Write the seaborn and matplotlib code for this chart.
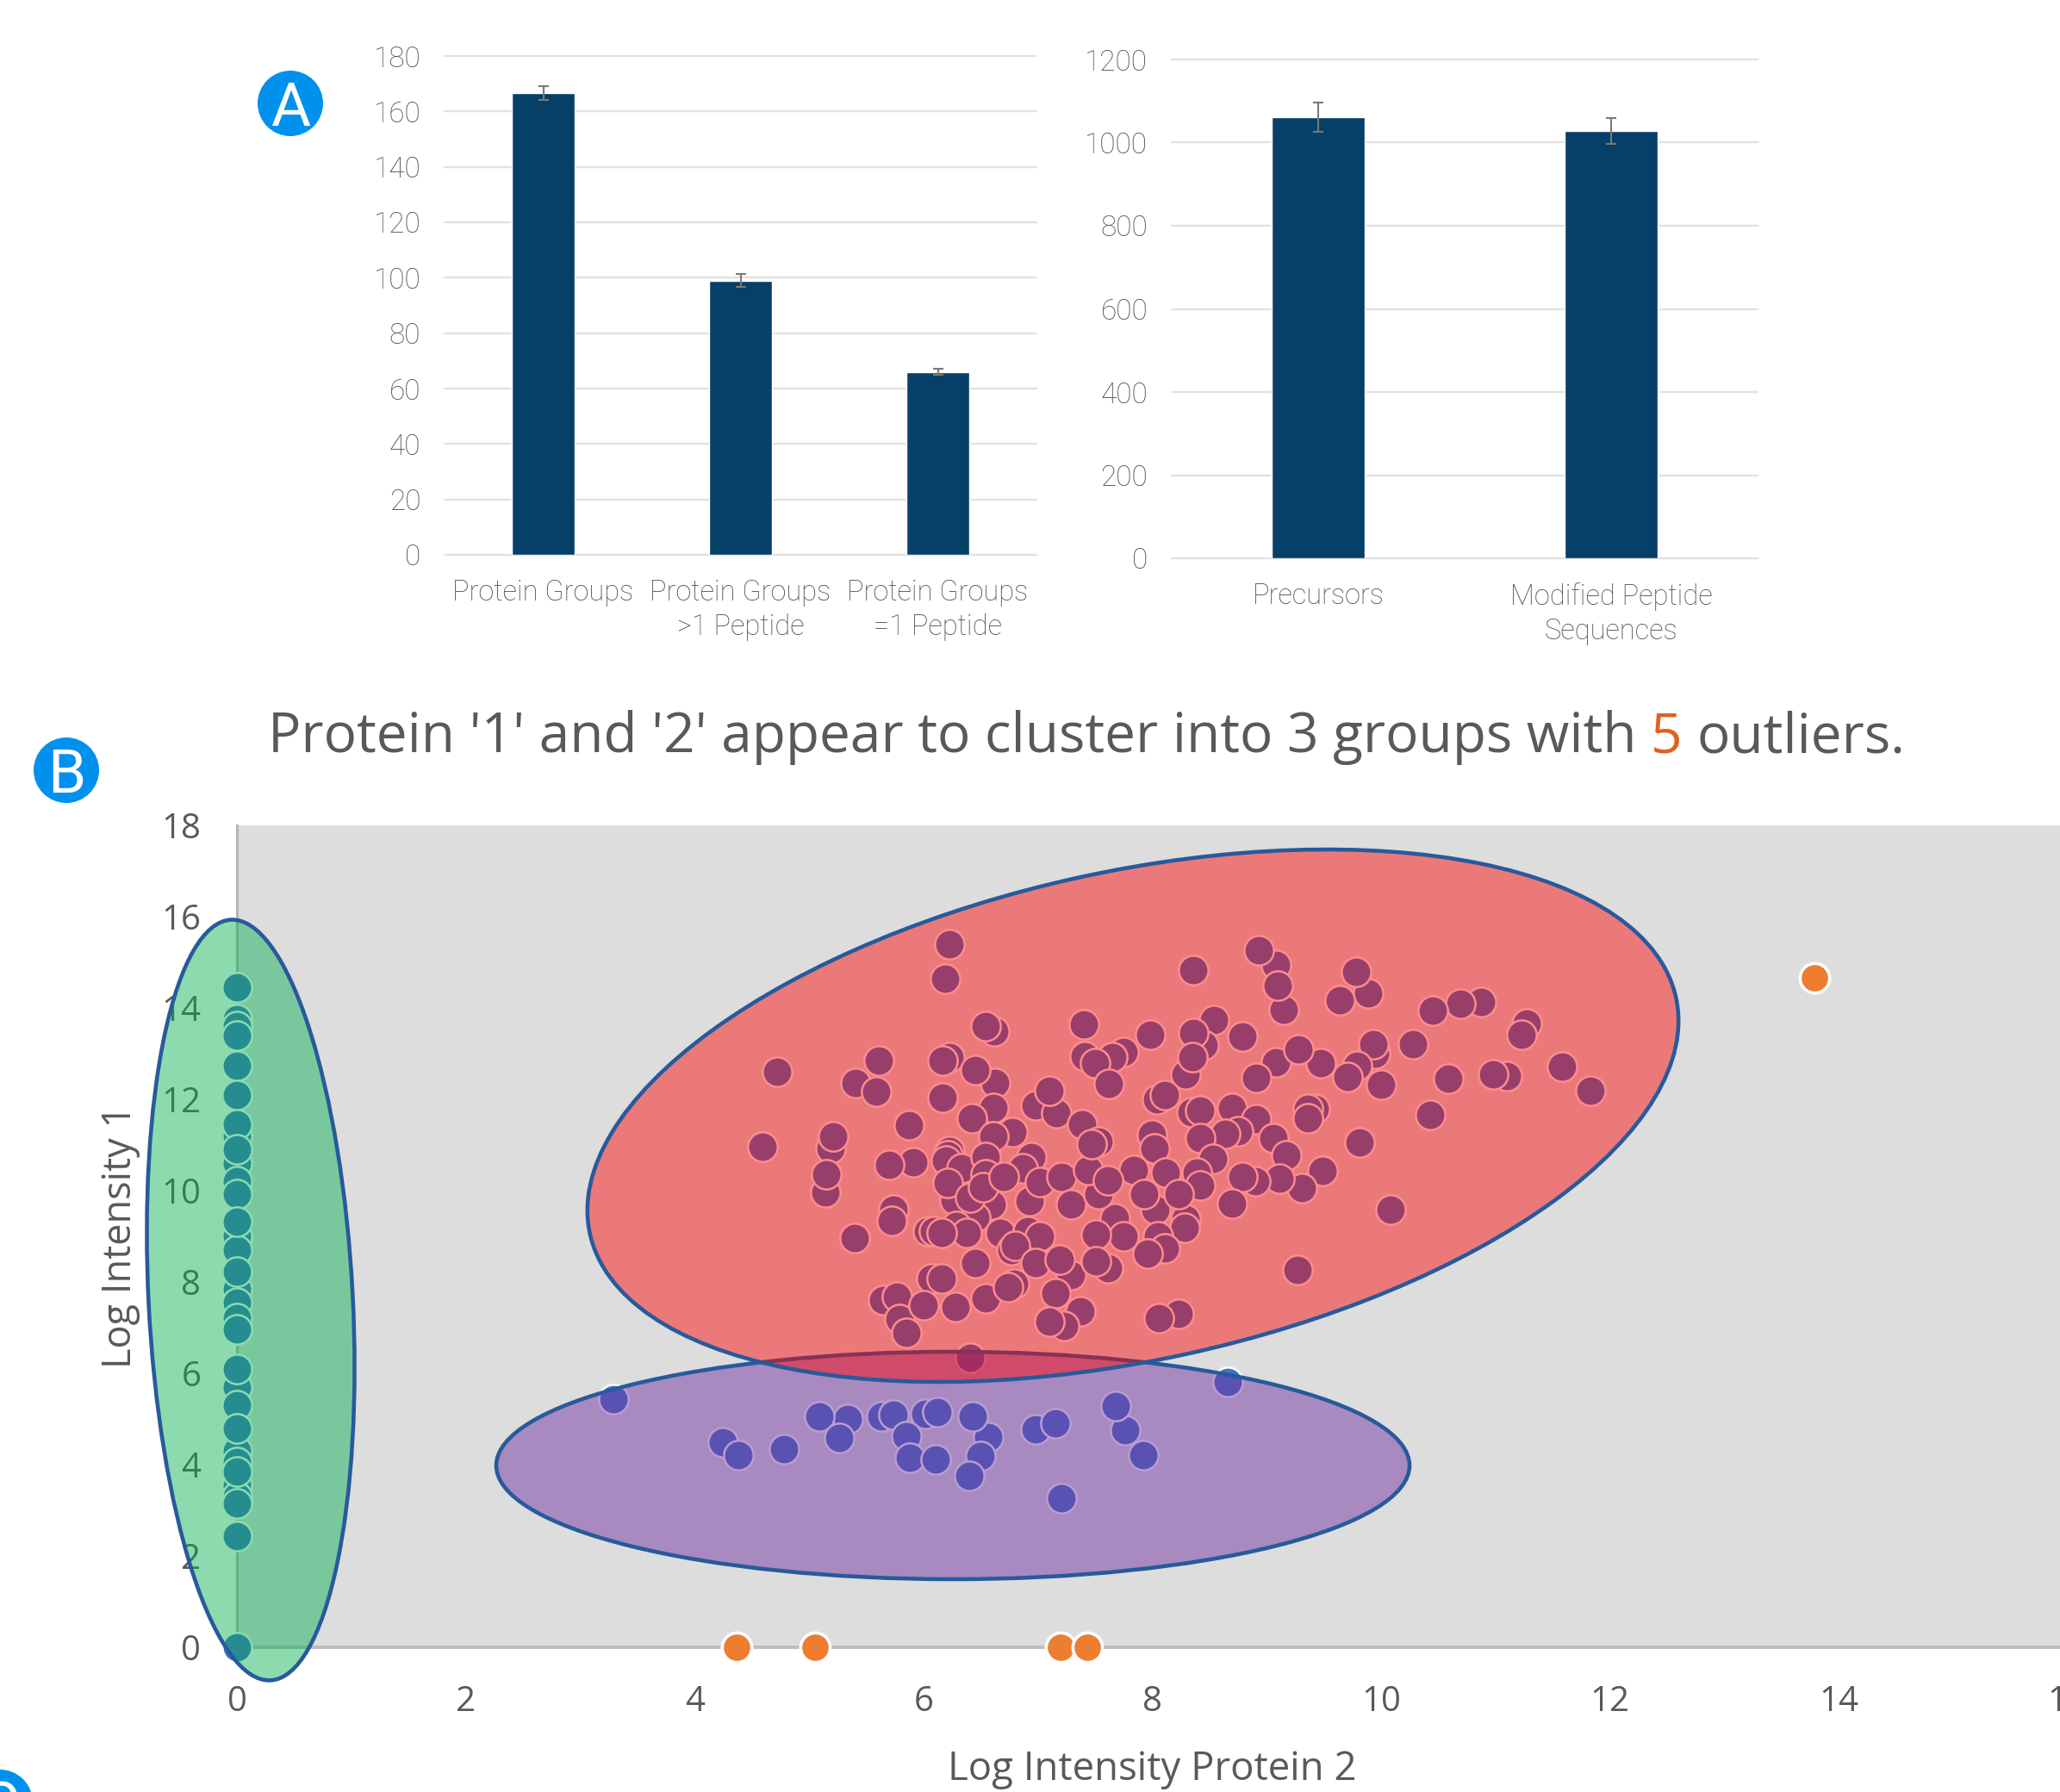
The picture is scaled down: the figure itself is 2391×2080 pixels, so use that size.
import matplotlib
matplotlib.use("Agg")
import matplotlib.pyplot as plt
import seaborn as sns
from matplotlib.patches import Circle, Ellipse
from matplotlib.transforms import IdentityTransform

W, H = 2391, 2080

groups_labels = ["Protein Groups", "Protein Groups\n>1 Peptide", "Protein Groups\n=1 Peptide"]
groups_values = [166.5, 99, 66]
groups_errors = [2.5, 2.3, 1.0]
groups_ticks = [0, 20, 40, 60, 80, 100, 120, 140, 160, 180]

peptide_labels = ["Precursors", "Modified Peptide\nSequences"]
peptide_values = [1061, 1028]
peptide_errors = [36, 31]
peptide_ticks = [0, 200, 400, 600, 800, 1000, 1200]

red_x = [6.23, 6.19, 6.62, 6.54, 5.61, 5.41, 5.59, 4.72, 6.23, 6.17, 6.63, 6.45, 6.17, 6.61, 6.42, 6.78, 6.61,
         6.98, 7.16, 7.10, 5.87, 4.59, 5.19, 5.21, 5.14, 5.15, 5.91, 5.70, 6.23, 6.21, 6.20, 6.33, 6.27, 6.21,
         6.54, 6.94, 6.87, 6.54, 6.60, 6.45, 6.41, 6.52, 6.70, 6.93, 7.02, 7.21, 7.29, 5.74, 5.72, 5.40, 6.04,
         6.09, 6.29, 6.38, 6.16, 6.67, 6.91, 7.02, 6.77, 6.80, 6.45, 6.98, 7.29, 7.19, 7.15, 7.37, 7.23, 7.10,
         6.07, 6.16, 5.65, 5.77, 5.79, 5.85, 6.00, 6.28, 6.54, 6.79, 6.74, 6.41,
         8.36, 9.08, 8.93, 9.15, 9.10, 9.89, 9.78, 9.64, 10.87, 10.69, 10.45, 11.27, 11.23, 11.58, 11.83, 11.10,
         10.98, 10.59, 10.43, 10.28, 9.95, 9.93, 9.79, 9.71, 10.00, 9.47, 9.08, 9.28, 8.91, 8.79, 8.54, 8.45,
         8.36, 8.29, 8.35, 7.98, 7.75, 7.65, 7.40, 7.41, 7.50, 7.62, 8.04, 8.11, 8.34, 8.42, 8.70, 8.91, 8.75,
         8.64, 8.42, 8.53, 9.06, 9.17, 9.42, 9.36, 9.36, 9.81, 9.49, 9.31, 9.11, 8.90, 8.79, 8.70, 10.08, 9.27,
         8.23, 8.06, 8.00, 8.02, 7.84, 8.12, 8.39, 8.42, 8.29, 8.03, 8.28, 8.05, 8.11, 7.96, 7.93, 8.23, 7.67,
         7.75, 7.51, 7.53, 7.44, 7.61, 7.39, 7.53, 7.47, 7.61, 7.51]
red_y = [15.40, 14.64, 13.49, 13.60, 12.84, 12.36, 12.17, 12.60, 12.92, 12.85, 12.36, 12.65, 12.04, 11.82, 11.58,
         11.28, 11.19, 11.86, 11.69, 12.19, 11.44, 10.96, 10.92, 11.19, 9.96, 10.35, 10.63, 10.57, 10.86, 10.78,
         10.66, 10.50, 9.80, 10.17, 10.74, 10.74, 10.50, 10.35, 9.69, 9.42, 9.85, 10.07, 10.31, 9.78, 10.19, 10.31,
         9.69, 9.58, 9.34, 8.97, 9.11, 9.11, 9.22, 9.07, 9.07, 9.08, 9.11, 9.00, 8.69, 8.80, 8.42, 8.42, 8.15, 8.50,
         7.76, 7.35, 7.03, 7.13, 8.07, 8.07, 7.60, 7.67, 7.19, 6.88, 7.50, 7.46, 7.65, 7.97, 7.89, 6.34,
         14.83, 14.94, 15.26, 13.96, 14.50, 14.33, 14.79, 14.17, 14.13, 14.09, 13.95, 13.66, 13.42, 12.71, 12.19,
         12.51, 12.55, 12.46, 11.66, 13.21, 13.00, 13.21, 12.73, 12.50, 12.33, 12.79, 12.81, 13.10, 12.47, 13.37,
         13.73, 13.19, 13.46, 12.55, 12.92, 13.41, 13.03, 12.93, 13.65, 12.94, 12.80, 12.34, 12.00, 12.10, 11.72,
         11.75, 11.82, 11.57, 11.30, 11.25, 11.15, 10.69, 11.15, 10.78, 11.80, 11.80, 11.58, 11.05, 10.44, 10.05,
         10.27, 10.21, 10.31, 9.72, 9.58, 8.27, 7.31, 7.21, 11.23, 10.92, 10.45, 10.40, 10.40, 10.11, 9.38, 9.58,
         9.19, 9.00, 8.73, 8.62, 9.92, 9.92, 9.40, 9.00, 9.03, 9.92, 10.46, 10.23, 11.46, 11.07, 11.01, 8.30, 8.45]

purple_x = [3.29, 8.66, 5.34, 5.09, 5.26, 4.25, 4.38, 4.78, 5.63, 5.74, 6.02, 6.12, 6.57, 6.43, 5.85, 5.88, 6.11,
            6.50, 6.40, 6.98, 7.15, 7.76, 7.68, 7.92, 7.21]
purple_y = [5.43, 5.81, 5.00, 5.05, 4.58, 4.50, 4.20, 4.34, 5.05, 5.10, 5.11, 5.15, 4.61, 5.05, 4.62, 4.15, 4.11,
            4.19, 3.76, 4.77, 4.91, 4.76, 5.28, 4.20, 3.26]

green_y = [13.76, 13.61, 11.2, 10.6, 10.2, 9.0, 8.7, 7.85, 7.55, 7.2, 5.70, 5.30, 4.3, 4.05, 3.55, 3.3, 3.16,
           0, 14.45, 13.40, 12.74, 12.09, 11.45, 10.9, 9.92, 9.32, 8.22, 6.97, 6.1, 4.80, 3.85, 2.44]
green_x = [0] * len(green_y)

outlier_x = [4.37, 5.05, 7.20, 7.43, 13.79]
outlier_y = [0, 0, 0, 0, 14.66]

scatter_xticks = [0, 2, 4, 6, 8, 10, 12, 14, 16]
scatter_yticks = [0, 2, 4, 6, 8, 10, 12, 14, 16, 18]

BAR = "#064068"
BAR_TEXT = "#505050"
GRID = "#E2E2E2"
TEXT = "#595959"
EDGE = "#285A9B"
BADGE = "#0091EE"

sns.set_theme(style="white")
plt.rcParams["font.family"] = ["Roboto", "DejaVu Sans"]


def px_axes(fig, left, top, right, bottom):
    return fig.add_axes([left / W, 1 - bottom / H, (right - left) / W, (bottom - top) / H])


def bar_panel(ax, labels, values, errors, ticks):
    sns.barplot(x=labels, y=values, color=BAR, saturation=1, width=0.32, errorbar=None, ax=ax, zorder=2)
    ax.errorbar(range(len(labels)), values, yerr=errors, fmt="none", ecolor="#7A7A72", elinewidth=1.5,
                capsize=4.3, capthick=1.5, zorder=3)
    ax.set_xlim(-0.5, len(labels) - 0.5)
    ax.set_ylim(ticks[0], ticks[-1])
    ax.set_yticks(ticks)
    ax.grid(axis="y", color=GRID, linewidth=1.7)
    ax.set_axisbelow(True)
    for line in ax.yaxis.get_gridlines():
        line.set_clip_on(False)
    sns.despine(ax=ax, left=True, bottom=True)
    ax.tick_params(axis="y", length=0, pad=20, labelsize=24, labelcolor=BAR_TEXT)
    ax.tick_params(axis="x", length=0, pad=20.5, labelsize=23.5, labelcolor=BAR_TEXT)
    for lab in ax.get_xticklabels() + ax.get_yticklabels():
        lab.set_fontweight("light")
    for lab in ax.get_xticklabels():
        lab.set_linespacing(1.3)


def badge(fig, cx, cy, letter):
    fig.add_artist(Circle((cx, H - cy), 38, facecolor=BADGE, edgecolor="none", transform=IdentityTransform()))
    fig.text(cx / W, 1 - cy / H, letter, color="white", fontsize=51, ha="center", va="center_baseline")


fig = plt.figure(figsize=(W / 100, H / 100), dpi=100)

ax_groups = px_axes(fig, 516, 65, 1203, 644)
bar_panel(ax_groups, groups_labels, groups_values, groups_errors, groups_ticks)
ax_peptides = px_axes(fig, 1360, 69, 2040, 648)
bar_panel(ax_peptides, peptide_labels, peptide_values, peptide_errors, peptide_ticks)

# the scatter axes run a little past the right edge so that the 16 tick gets cut off
ax = px_axes(fig, 275, 958, 275 + 16 * 132.8, 1912)
ax.set_facecolor("#DDDDDD")
marker = dict(s=610, edgecolor="white", linewidth=1.8, clip_on=False, legend=False, ax=ax, zorder=3)
sns.scatterplot(x=green_x, y=green_y, color="#4472C4", **marker)
sns.scatterplot(x=red_x, y=red_y, color="#4472C4", **marker)
sns.scatterplot(x=purple_x, y=purple_y, color="#4472C4", **marker)
sns.scatterplot(x=outlier_x, y=outlier_y, color="#ED7D31", **{**marker, "zorder": 8, "linewidth": 2.6})
ax.set_xlim(0, 16)
ax.set_ylim(0, 18)
ax.set_xticks(scatter_xticks)
ax.set_yticks(scatter_yticks)
for side in ["top", "right"]:
    ax.spines[side].set_visible(False)
ax.spines["left"].set_color("#B5B5B5")
ax.spines["left"].set_linewidth(2.2)
ax.spines["bottom"].set_color("#BDBDBD")
ax.spines["bottom"].set_linewidth(2.8)
ax.tick_params(axis="x", length=0, labelsize=29, labelcolor=TEXT, pad=31)
ax.tick_params(axis="y", length=0, labelsize=29, labelcolor=TEXT, pad=30)
for lab in ax.get_xticklabels() + ax.get_yticklabels():
    lab.set_fontfamily("Open Sans")

ovals = [
    ((1106, 1701), 1060, 264, 0, (0.44, 0.19, 0.63, 0.48), 5),
    ((291, 1509), 884, 237, 92.98, (0.0, 0.69, 0.31, 0.45), 5),
    ((1315, 1295), 1290, 567, 12.25, (1.0, 0.0, 0.0, 0.45), 6),
]
for (cx, cy), w, h, angle, fill, z in ovals:
    ax.add_patch(Ellipse((cx, H - cy), w, h, angle=angle, facecolor=fill, edgecolor=EDGE, linewidth=3.3,
                         transform=IdentityTransform(), clip_on=False, zorder=z))

fig.text(140 / W, 1 - 1435 / H, "Log Intensity 1", rotation=90, ha="center", va="center",
         fontsize=32.5, color=TEXT, family="Open Sans")
fig.text(1337 / W, 1 - 2054 / H, "Log Intensity Protein 2", ha="center", va="center",
         fontsize=32.8, color=TEXT, family="Open Sans")

# headline in three pieces, the 5 is coloured
renderer = fig.canvas.get_renderer()
title_x = 311
title_size = 46
space = 0.26 * title_size * 100 / 72
for piece, colour in [("Protein '1' and '2' appear to cluster into 3 groups with", TEXT), ("5", "#E0601F"),
                      ("outliers.", TEXT)]:
    t = fig.text(title_x / W, 1 - 873 / H, piece, color=colour, fontsize=title_size, family="Open Sans",
                 va="baseline")
    title_x = t.get_window_extent(renderer).x1 + space

badge(fig, 337, 120, "A")
badge(fig, 77, 894, "B")
badge(fig, 0, 2092, "C")

fig.savefig("out.png", dpi=100)
